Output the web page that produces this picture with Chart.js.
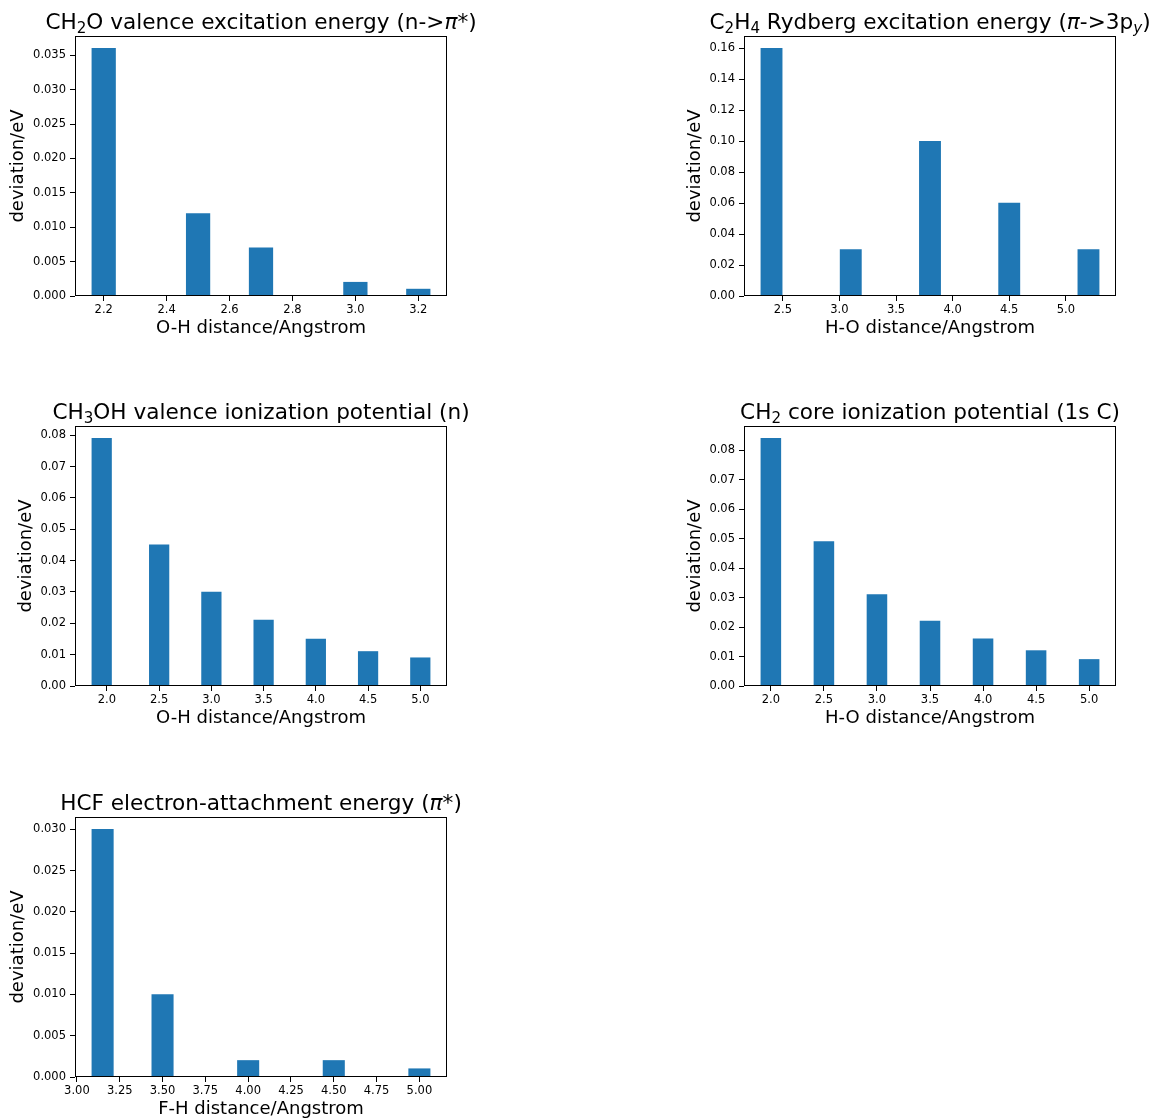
<!DOCTYPE html>
<html>
<head>
<meta charset="utf-8">
<script src="https://cdn.jsdelivr.net/npm/chart.js@4.4.1/dist/chart.umd.min.js"></script>
<style>
  html, body { margin: 0; padding: 0; background: #fff; overflow: hidden; }
  #page { position: relative; width: 1157px; height: 1120px; }
  .panel { position: absolute; }
</style>
</head>
<body>
<div id="page">
  <canvas class="panel" id="ch2o" width="480" height="345" style="left:0px;top:0px"></canvas>
  <canvas class="panel" id="c2h4" width="488" height="345" style="left:669px;top:0px"></canvas>
  <canvas class="panel" id="ch3oh" width="480" height="345" style="left:0px;top:390px"></canvas>
  <canvas class="panel" id="ch2" width="488" height="345" style="left:669px;top:390px"></canvas>
  <canvas class="panel" id="hcf" width="480" height="345" style="left:0px;top:781px"></canvas>
</div>
<script>
// CH2O valence excitation energy (n->pi*)
const ch2oX = [2.2, 2.5, 2.7, 3.0, 3.2];
const ch2oY = [0.036, 0.012, 0.007, 0.002, 0.001];
const ch2oXTicks = [2.2, 2.4, 2.6, 2.8, 3.0, 3.2];
const ch2oYTicks = [0, 0.005, 0.010, 0.015, 0.020, 0.025, 0.030, 0.035];

// C2H4 Rydberg excitation energy (pi->3py)
const c2h4X = [2.4, 3.1, 3.8, 4.5, 5.2];
const c2h4Y = [0.16, 0.03, 0.10, 0.06, 0.03];
const c2h4XTicks = [2.5, 3.0, 3.5, 4.0, 4.5, 5.0];
const c2h4YTicks = [0, 0.02, 0.04, 0.06, 0.08, 0.10, 0.12, 0.14, 0.16];

// CH3OH valence ionization potential (n)
const ch3ohX = [1.95, 2.5, 3.0, 3.5, 4.0, 4.5, 5.0];
const ch3ohY = [0.079, 0.045, 0.030, 0.021, 0.015, 0.011, 0.009];
const ch3ohXTicks = [2.0, 2.5, 3.0, 3.5, 4.0, 4.5, 5.0];
const ch3ohYTicks = [0, 0.01, 0.02, 0.03, 0.04, 0.05, 0.06, 0.07, 0.08];

// CH2 core ionization potential (1s C)
const ch2X = [2.0, 2.5, 3.0, 3.5, 4.0, 4.5, 5.0];
const ch2Y = [0.084, 0.049, 0.031, 0.022, 0.016, 0.012, 0.009];
const ch2XTicks = [2.0, 2.5, 3.0, 3.5, 4.0, 4.5, 5.0];
const ch2YTicks = [0, 0.01, 0.02, 0.03, 0.04, 0.05, 0.06, 0.07, 0.08];

// HCF electron-attachment energy (pi*)
const hcfX = [3.15, 3.5, 4.0, 4.5, 5.0];
const hcfY = [0.030, 0.010, 0.002, 0.002, 0.001];
const hcfXTicks = [3.0, 3.25, 3.5, 3.75, 4.0, 4.25, 4.5, 4.75, 5.0];
const hcfYTicks = [0, 0.005, 0.010, 0.015, 0.020, 0.025, 0.030];

const FONT = "DejaVu Sans";
const BLUE = "#1f77b4";

// frame around the plot area (matplotlib spines)
const framePlugin = {
  id: "frame",
  afterDatasetsDraw(chart) {
    const { ctx, chartArea: a } = chart;
    ctx.save();
    ctx.strokeStyle = "#000";
    ctx.lineWidth = 1;
    ctx.strokeRect(Math.round(a.left) + 0.5, Math.round(a.top) + 0.5,
      Math.round(a.width) - 1, Math.round(a.height) - 1);
    ctx.restore();
  }
};

// title with subscripts / italic pieces, centred over the plot area
function richTitle(parts) {
  return {
    id: "richTitle",
    afterDraw(chart) {
      const { ctx, chartArea: a } = chart;
      const size = 21.6;
      ctx.save();
      let total = 0;
      const items = parts.map(([text, style = ""]) => {
        const sub = style.includes("sub");
        const it = style.includes("it");
        const font = (it ? "italic " : "") + (sub ? size * 0.7 : size) + 'px "' + FONT + '"';
        ctx.font = font;
        const w = ctx.measureText(text).width;
        total += w;
        return { text, font, w, dy: sub ? size * 0.17 : 0 };
      });
      let x = (a.left + a.right) / 2 - total / 2;
      const y = a.top - 7;
      ctx.fillStyle = "#000";
      ctx.textAlign = "left";
      ctx.textBaseline = "alphabetic";
      items.forEach((i) => {
        ctx.font = i.font;
        ctx.fillText(i.text, x, y + i.dy);
        x += i.w;
      });
      ctx.restore();
    }
  };
}

function makeChart(id, o) {
  const lo = Math.min(...o.x) - o.barWidth / 2;
  const hi = Math.max(...o.x) + o.barWidth / 2;
  const margin = (hi - lo) * 0.05;
  const yMax = Math.max(...o.y) * 1.05;

  new Chart(document.getElementById(id), {
    type: "bar",
    data: {
      datasets: [{
        data: o.x.map((v, i) => ({ x: v, y: o.y[i] })),
        backgroundColor: BLUE,
        borderWidth: 0,
        barThickness: (ctx) => {
          const s = ctx.chart.scales.x;
          return Math.abs(s.getPixelForValue(o.barWidth) - s.getPixelForValue(0));
        }
      }]
    },
    options: {
      responsive: false,
      animation: false,
      layout: { padding: { left: 0, top: 36, right: o.padRight, bottom: 0 } },
      plugins: { legend: { display: false }, tooltip: { enabled: false }, title: { display: false } },
      scales: {
        x: {
          type: "linear",
          min: lo - margin,
          max: hi + margin,
          offset: false,
          afterBuildTicks: (s) => { s.ticks = o.xTicks.map((v) => ({ value: v })); },
          afterFit: (s) => { s.height = 49; },
          grid: { display: true, drawOnChartArea: false, drawTicks: true, tickLength: 5, color: "#000", offset: false },
          border: { display: false },
          ticks: {
            color: "#000", font: { family: FONT, size: 11.5 }, padding: 2,
            maxRotation: 0, autoSkip: false,
            callback: (v) => Number(v).toFixed(o.xDec)
          },
          title: { display: true, text: o.xLabel, color: "#000", font: { family: FONT, size: 18 }, padding: { top: 0, bottom: 6 } }
        },
        y: {
          type: "linear",
          min: 0,
          max: yMax,
          afterBuildTicks: (s) => { s.ticks = o.yTicks.map((v) => ({ value: v })); },
          afterFit: (s) => { s.width = 75; },
          grid: { display: true, drawOnChartArea: false, drawTicks: true, tickLength: 5, color: "#000" },
          border: { display: false },
          ticks: {
            color: "#000", font: { family: FONT, size: 11.5 }, padding: 4, autoSkip: false,
            callback: (v) => Number(v).toFixed(o.yDec)
          },
          title: { display: true, text: "deviation/eV", color: "#000", font: { family: FONT, size: 18 }, padding: { top: o.yLabelPad, bottom: 0 } }
        }
      }
    },
    plugins: [framePlugin, richTitle(o.title)]
  });
}

makeChart("ch2o", {
  title: [["CH"], ["2", "sub"], ["O valence excitation energy (n->"], ["π", "it"], ["*)"]],
  x: ch2oX, y: ch2oY, barWidth: 0.075, xTicks: ch2oXTicks, yTicks: ch2oYTicks,
  xDec: 1, yDec: 3, xLabel: "O-H distance/Angstrom", yLabelPad: 8, padRight: 33
});
makeChart("c2h4", {
  title: [["C"], ["2", "sub"], ["H"], ["4", "sub"], [" Rydberg excitation energy ("], ["π", "it"], ["->3p"], ["y", "subit"], [")"]],
  x: c2h4X, y: c2h4Y, barWidth: 0.1875, xTicks: c2h4XTicks, yTicks: c2h4YTicks,
  xDec: 1, yDec: 2, xLabel: "H-O distance/Angstrom", yLabelPad: 15.7, padRight: 41
});
makeChart("ch3oh", {
  title: [["CH"], ["3", "sub"], ["OH valence ionization potential (n)"]],
  x: ch3ohX, y: ch3ohY, barWidth: 0.1875, xTicks: ch3ohXTicks, yTicks: ch3ohYTicks,
  xDec: 1, yDec: 2, xLabel: "O-H distance/Angstrom", yLabelPad: 15.7, padRight: 33
});
makeChart("ch2", {
  title: [["CH"], ["2", "sub"], [" core ionization potential (1s C)"]],
  x: ch2X, y: ch2Y, barWidth: 0.1875, xTicks: ch2XTicks, yTicks: ch2YTicks,
  xDec: 1, yDec: 2, xLabel: "H-O distance/Angstrom", yLabelPad: 15.7, padRight: 41
});
makeChart("hcf", {
  title: [["HCF electron-attachment energy ("], ["π", "it"], ["*)"]],
  x: hcfX, y: hcfY, barWidth: 0.125, xTicks: hcfXTicks, yTicks: hcfYTicks,
  xDec: 2, yDec: 3, xLabel: "F-H distance/Angstrom", yLabelPad: 8, padRight: 33
});
</script>
</body>
</html>
